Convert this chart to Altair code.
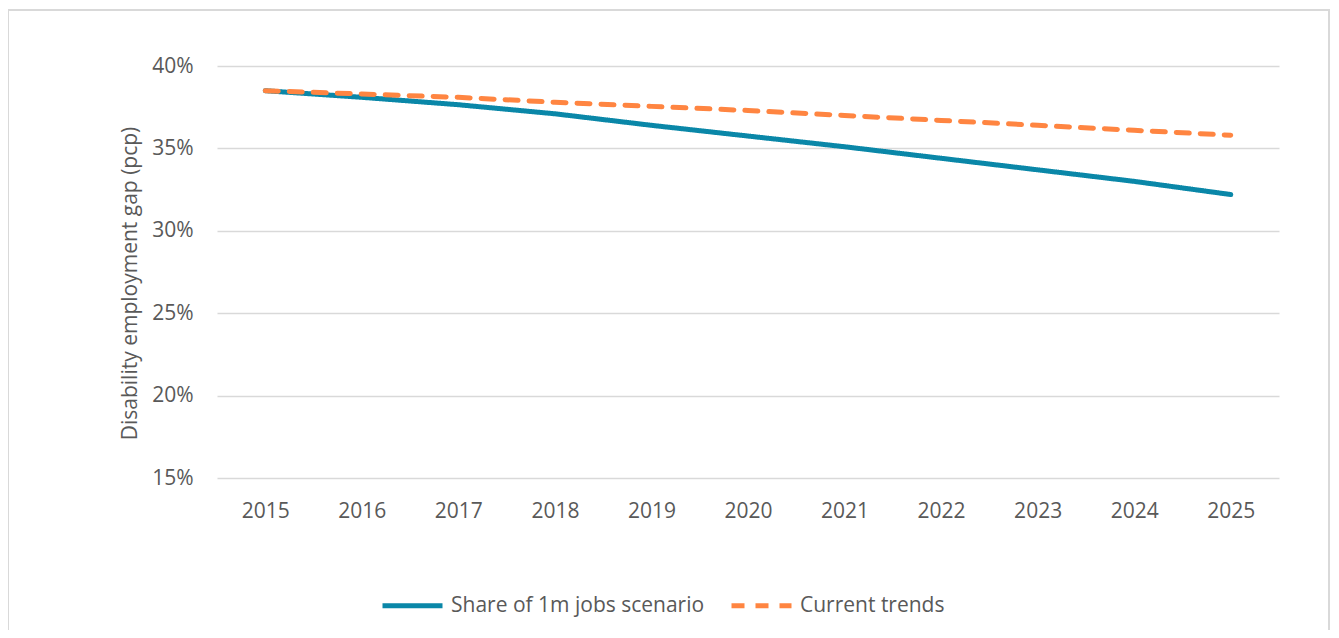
import altair as alt
import pandas as pd

years = ["2015", "2016", "2017", "2018", "2019", "2020", "2021", "2022", "2023", "2024", "2025"]
scenario = [38.5, 38.1, 37.65, 37.1, 36.4, 35.75, 35.1, 34.4, 33.7, 33.0, 32.2]
current = [38.5, 38.3, 38.1, 37.8, 37.55, 37.3, 37.0, 36.7, 36.4, 36.1, 35.8]
series_names = ["Share of 1m jobs scenario", "Current trends"]
y_ticks = [0.15, 0.20, 0.25, 0.30, 0.35, 0.40]

rows = []
for i, yr in enumerate(years):
    rows.append({"year": yr, "series": series_names[0], "value": scenario[i] / 100})
    rows.append({"year": yr, "series": series_names[1], "value": current[i] / 100})
df = pd.DataFrame(rows)

FONT = "Open Sans"
TXT = "#595959"
FS = 21

legend_cfg = dict(title=None, orient="none", direction="horizontal",
                  legendX=163, legendY=507,
                  symbolType="stroke", symbolSize=3600, symbolStrokeWidth=5,
                  labelFont=FONT, labelFontSize=FS, labelColor=TXT, labelLimit=500,
                  labelOffset=6, columnPadding=16)

base = alt.Chart(df).mark_line(strokeWidth=5, strokeCap="round", strokeJoin="round").encode(
    x=alt.X("year:O", sort=years,
            scale=alt.Scale(type="point", padding=0.5),
            axis=alt.Axis(title=None, labelAngle=0, ticks=False, domain=False, grid=False,
                          labelPadding=22, labelFont=FONT, labelFontSize=FS, labelColor=TXT)),
    y=alt.Y("value:Q",
            scale=alt.Scale(domain=[0.15, 0.40], nice=False, zero=False),
            axis=alt.Axis(values=y_ticks, format=".0%", title="Disability employment gap (pcp)",
                          ticks=False, domain=False, grid=True, gridColor="#d9d9d9", gridWidth=1.5,
                          labelPadding=24, labelFont=FONT, labelFontSize=FS, labelColor=TXT,
                          titleFont=FONT, titleFontSize=FS, titleFontWeight="normal", titleColor=TXT,
                          titleAngle=-90, titleX=-87, titleY=217, titleAlign="center",
                          titleBaseline="middle")),
    color=alt.Color("series:N",
                    scale=alt.Scale(domain=series_names, range=["#0A87A8", "#FF8541"]),
                    legend=alt.Legend(**legend_cfg)),
    strokeDash=alt.StrokeDash("series:N",
                              scale=alt.Scale(domain=series_names, range=[[1, 0], [13, 11]]),
                              legend=alt.Legend(**legend_cfg)),
)

blue = base.transform_filter(alt.datum.series == series_names[0])
orange = base.transform_filter(alt.datum.series == series_names[1])

border = alt.Chart(pd.DataFrame({"a": [0]})).mark_rect(
    fill=None, stroke="#d9d9d9", strokeWidth=2, clip=False
).encode(x=alt.value(-209), x2=alt.value(1112), y=alt.value(-56), y2=alt.value(600))

chart = alt.layer(border, blue, orange).properties(
    width=1062, height=412,
    autosize=alt.AutoSizeParams(type="none"),
    padding={"left": 209, "top": 58, "right": 52, "bottom": 152},
).configure_view(stroke=None)

chart.save("out.html", embed_options={"renderer": "svg", "actions": False})
